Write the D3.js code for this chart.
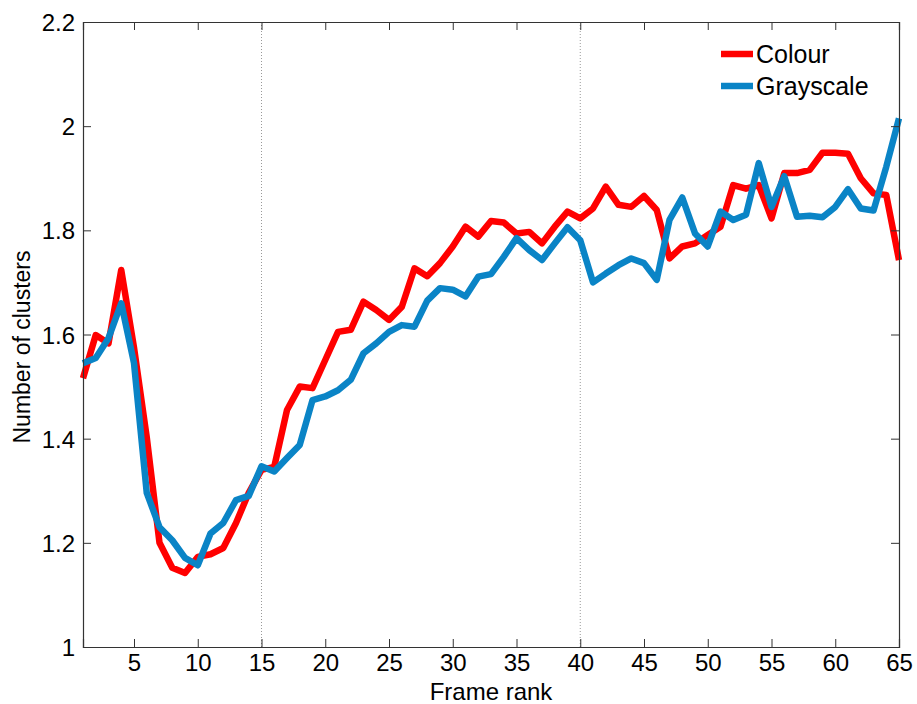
<!DOCTYPE html>
<html>
<head>
<meta charset="utf-8">
<script src="https://cdn.jsdelivr.net/npm/d3@7"></script>
<style>
  html, body { margin: 0; padding: 0; background: #fff; }
  svg { display: block; font-family: "Liberation Sans", Arial, sans-serif; }
</style>
</head>
<body>
<svg id="chart" width="917" height="704"></svg>
<script>
// ---- data ----
const frameRank = d3.range(1, 66);
const colour = [
  1.516, 1.599, 1.583, 1.724, 1.575, 1.403, 1.20, 1.152, 1.142, 1.173,
  1.178, 1.19, 1.238, 1.296, 1.34, 1.346, 1.455, 1.50, 1.497, 1.551,
  1.605, 1.609, 1.663, 1.647, 1.628, 1.653, 1.727, 1.712, 1.737, 1.769,
  1.807, 1.788, 1.818, 1.815, 1.794, 1.797, 1.775, 1.807, 1.836, 1.823,
  1.842, 1.884, 1.849, 1.845, 1.866, 1.839, 1.746, 1.769, 1.775, 1.791,
  1.807, 1.887, 1.88, 1.887, 1.823, 1.91, 1.91, 1.916, 1.949, 1.949,
  1.947, 1.90, 1.871, 1.868, 1.743
];
const grayscale = [
  1.545, 1.555, 1.593, 1.66, 1.545, 1.296, 1.23, 1.205, 1.171, 1.157,
  1.218, 1.238, 1.282, 1.29, 1.347, 1.337, 1.363, 1.388, 1.474, 1.481,
  1.493, 1.513, 1.564, 1.583, 1.605, 1.618, 1.615, 1.665, 1.689, 1.686,
  1.673, 1.711, 1.716, 1.749, 1.785, 1.762, 1.743, 1.775, 1.806, 1.781,
  1.70, 1.717, 1.733, 1.746, 1.737, 1.705, 1.82, 1.863, 1.794, 1.769,
  1.836, 1.82, 1.83, 1.929, 1.845, 1.904, 1.826, 1.828, 1.825, 1.845,
  1.879, 1.842, 1.838, 1.922, 2.015
];
const xTicks = [5, 10, 15, 20, 25, 30, 35, 40, 45, 50, 55, 60, 65];
const yTicks = [1, 1.2, 1.4, 1.6, 1.8, 2, 2.2];
const dottedAt = [15, 40];
const seriesNames = ["Colour", "Grayscale"];
const seriesColors = ["#ff0000", "#0a84c6"];

// ---- layout ----
const svg = d3.select("#chart");
const L = 83, R = 899, T = 22, B = 647;
const x = d3.scaleLinear().domain([1, 65]).range([L, R]);
const y = d3.scaleLinear().domain([1, 2.2]).range([B, T]);

// dotted grid lines
svg.selectAll("line.vgrid").data(dottedAt).enter().append("line")
  .attr("x1", d => x(d)).attr("x2", d => x(d))
  .attr("y1", T).attr("y2", B)
  .attr("stroke", "#999").attr("stroke-width", 1)
  .attr("stroke-dasharray", "1,2");

// lines
const line = d3.line().x((d, i) => x(frameRank[i])).y(d => y(d));
[colour, grayscale].forEach((s, k) => {
  svg.append("path").datum(s)
    .attr("d", line)
    .attr("fill", "none")
    .attr("stroke", seriesColors[k])
    .attr("stroke-width", 6.5)
    .attr("stroke-linejoin", "round");
});

// axes (box style, inward ticks)
const tickLen = 8;
const gB = svg.append("g").attr("transform", `translate(0,${B})`)
  .call(d3.axisBottom(x).tickValues(xTicks).tickSize(-tickLen).tickFormat(d3.format("d")));
gB.selectAll(".tick text").attr("dy", null).attr("y", 24);
const gT = svg.append("g").attr("transform", `translate(0,${T})`)
  .call(d3.axisTop(x).tickValues(xTicks).tickSize(-tickLen).tickFormat(""));
const gL = svg.append("g").attr("transform", `translate(${L},0)`)
  .call(d3.axisLeft(y).tickValues(yTicks).tickSize(-tickLen).tickFormat(d => d3.format("")(+d.toFixed(1))));
gL.selectAll(".tick text").attr("x", -8).attr("dy", "0.36em");
const gR = svg.append("g").attr("transform", `translate(${R},0)`)
  .call(d3.axisRight(y).tickValues(yTicks).tickSize(-tickLen).tickFormat(""));

[gB, gT, gL, gR].forEach(g => {
  g.select(".domain").attr("stroke", "#333").attr("stroke-width", 1.2);
  g.selectAll(".tick line").attr("stroke", "#333");
  g.selectAll("text").attr("fill", "#000").style("font-size", "24px")
    .style("font-family", "'Liberation Sans', Arial, sans-serif");
});

// axis titles
svg.append("text")
  .attr("x", (L + R) / 2).attr("y", 700)
  .attr("text-anchor", "middle")
  .style("font-size", "24px").text("Frame rank");
svg.append("text")
  .attr("transform", `translate(30,347) rotate(-90)`)
  .attr("text-anchor", "middle")
  .style("font-size", "23px").text("Number of clusters");

// legend
const lg = svg.append("g");
seriesNames.forEach((n, k) => {
  const yy = 54 + k * 32;
  lg.append("line").attr("x1", 721).attr("x2", 753)
    .attr("y1", yy).attr("y2", yy)
    .attr("stroke", seriesColors[k]).attr("stroke-width", 6.5);
  lg.append("text").attr("x", 756).attr("y", yy + 9)
    .style("font-size", "25px").text(n);
});
</script>
</body>
</html>
